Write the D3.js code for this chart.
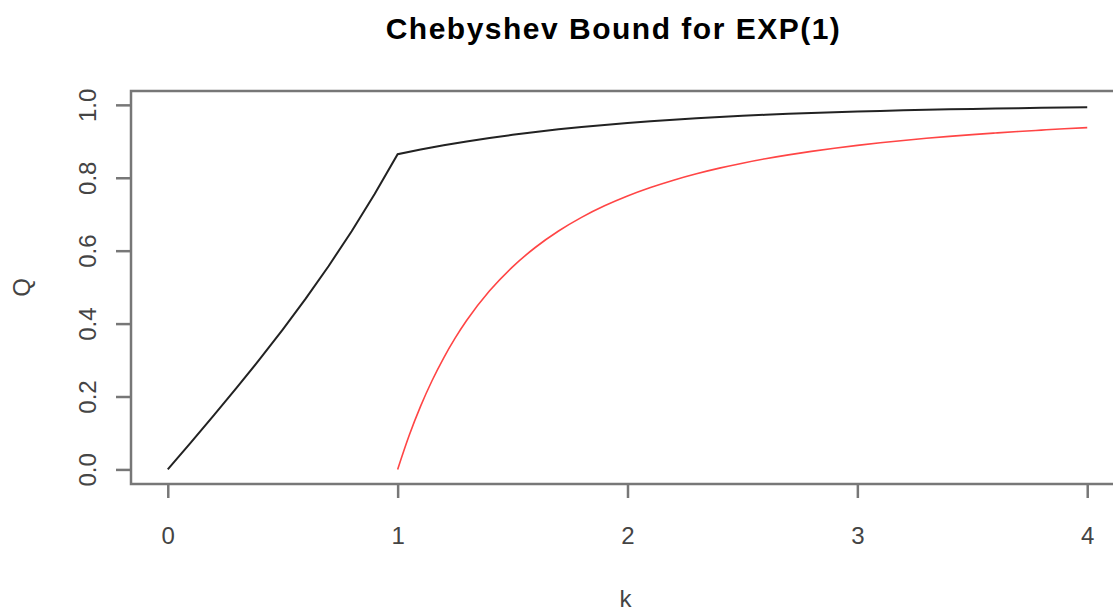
<!DOCTYPE html>
<html>
<head>
<meta charset="utf-8">
<script src="https://cdn.jsdelivr.net/npm/d3@7"></script>
<style>
  body { margin: 0; background: #fff; }
  svg text { font-family: "Liberation Sans", Arial, sans-serif; }
</style>
</head>
<body>
<div id="chart"></div>
<script>
// values
var blackK = [0, 0.1, 0.2, 0.3, 0.4, 0.5, 0.6, 0.7, 0.8, 0.9, 1.0,
  1.1, 1.2, 1.3, 1.4, 1.5, 1.6, 1.7, 1.8, 1.9, 2.0,
  2.1, 2.2, 2.3, 2.4, 2.5, 2.6, 2.7, 2.8, 2.9, 3.0,
  3.1, 3.2, 3.3, 3.4, 3.5, 3.6, 3.7, 3.8, 3.9, 4.0];
var blackQ = [0, 0.0737, 0.1481, 0.2241, 0.3022, 0.3834, 0.4684, 0.5581, 0.6534, 0.7552, 0.8647,
  0.8775, 0.8892, 0.8997, 0.9093, 0.9179, 0.9257, 0.9328, 0.9392, 0.9450, 0.9502,
  0.9550, 0.9592, 0.9631, 0.9666, 0.9698, 0.9727, 0.9753, 0.9776, 0.9798, 0.9817,
  0.9834, 0.9850, 0.9864, 0.9877, 0.9889, 0.9899, 0.9909, 0.9918, 0.9926, 0.9933];

var redK = [1.0, 1.05, 1.1, 1.15, 1.2, 1.25, 1.3, 1.4, 1.5, 1.6, 1.7, 1.8, 1.9, 2.0,
  2.1, 2.2, 2.3, 2.4, 2.5, 2.6, 2.7, 2.8, 2.9, 3.0,
  3.1, 3.2, 3.3, 3.4, 3.5, 3.6, 3.7, 3.8, 3.9, 4.0];
var redQ = [0, 0.0930, 0.1736, 0.2439, 0.3056, 0.36, 0.4083, 0.4898, 0.5556, 0.6094, 0.6540, 0.6914, 0.7230, 0.75,
  0.7732, 0.7934, 0.8110, 0.8264, 0.84, 0.8521, 0.8628, 0.8724, 0.8811, 0.8889,
  0.8959, 0.9023, 0.9082, 0.9135, 0.9184, 0.9228, 0.9270, 0.9307, 0.9343, 0.9375];

var xTicks = [0, 1, 2, 3, 4];
var yTicks = [0, 0.2, 0.4, 0.6, 0.8, 1.0];

var w = 1113, h = 612;
var box = { left: 131, right: 1124, top: 91, bottom: 484 };

var svg = d3.select("#chart").append("svg")
    .attr("width", w)
    .attr("height", h);

// R style: 4% padding on each side of the data range
var x = d3.scaleLinear().domain([-0.16, 4.16]).range([box.left, box.right]);
var y = d3.scaleLinear().domain([-0.04, 1.038]).range([box.bottom, box.top]);

var grey = "#777";
var labelColor = "#444";

// curves
var line = d3.line()
    .x(function(d){ return x(d[0]); })
    .y(function(d){ return y(d[1]); });

svg.append("path")
    .datum(d3.zip(blackK, blackQ))
    .attr("d", line)
    .attr("fill", "none")
    .attr("stroke", "#222")
    .attr("stroke-width", 2);

svg.append("path")
    .datum(d3.zip(redK, redQ))
    .attr("d", line.curve(d3.curveMonotoneX))
    .attr("fill", "none")
    .attr("stroke", "#ff4545")
    .attr("stroke-width", 1.6);

// plot box
svg.append("rect")
    .attr("x", box.left)
    .attr("y", box.top)
    .attr("width", box.right - box.left)
    .attr("height", box.bottom - box.top)
    .attr("fill", "none")
    .attr("stroke", grey)
    .attr("stroke-width", 2.5);

// x axis
var xAxis = svg.append("g")
    .attr("transform", "translate(0," + box.bottom + ")")
    .call(d3.axisBottom(x).tickValues(xTicks).tickSize(14).tickPadding(29).tickFormat(d3.format("d")));
xAxis.select(".domain").remove();
xAxis.selectAll(".tick line").attr("stroke", grey).attr("stroke-width", 2.5);
xAxis.selectAll(".tick text")
    .attr("fill", labelColor)
    .style("font-size", "24px");

// y axis, labels rotated like R's default las=0
var yAxis = svg.append("g")
    .attr("transform", "translate(" + box.left + ",0)")
    .call(d3.axisLeft(y).tickValues(yTicks).tickSize(15).tickFormat(d3.format(".1f")));
yAxis.select(".domain").remove();
yAxis.selectAll(".tick line").attr("stroke", grey).attr("stroke-width", 2.5);
yAxis.selectAll(".tick text")
    .attr("fill", labelColor)
    .attr("x", null)
    .attr("dy", null)
    .attr("text-anchor", "middle")
    .attr("transform", "translate(-35,0) rotate(-90)")
    .style("font-size", "24px");

// titles
svg.append("text")
    .attr("x", (box.left + box.right) / 2 - 14)
    .attr("y", 39)
    .attr("text-anchor", "middle")
    .attr("font-weight", "bold")
    .attr("fill", "#000")
    .style("font-size", "30px")
    .style("letter-spacing", "1.5px")
    .text("Chebyshev Bound for EXP(1)");

svg.append("text")
    .attr("x", (box.left + box.right) / 2 - 2)
    .attr("y", 607)
    .attr("text-anchor", "middle")
    .attr("fill", labelColor)
    .style("font-size", "24px")
    .text("k");

svg.append("text")
    .attr("transform", "translate(30," + ((box.top + box.bottom) / 2) + ") rotate(-90)")
    .attr("text-anchor", "middle")
    .attr("fill", labelColor)
    .style("font-size", "24px")
    .text("Q");
</script>
</body>
</html>
